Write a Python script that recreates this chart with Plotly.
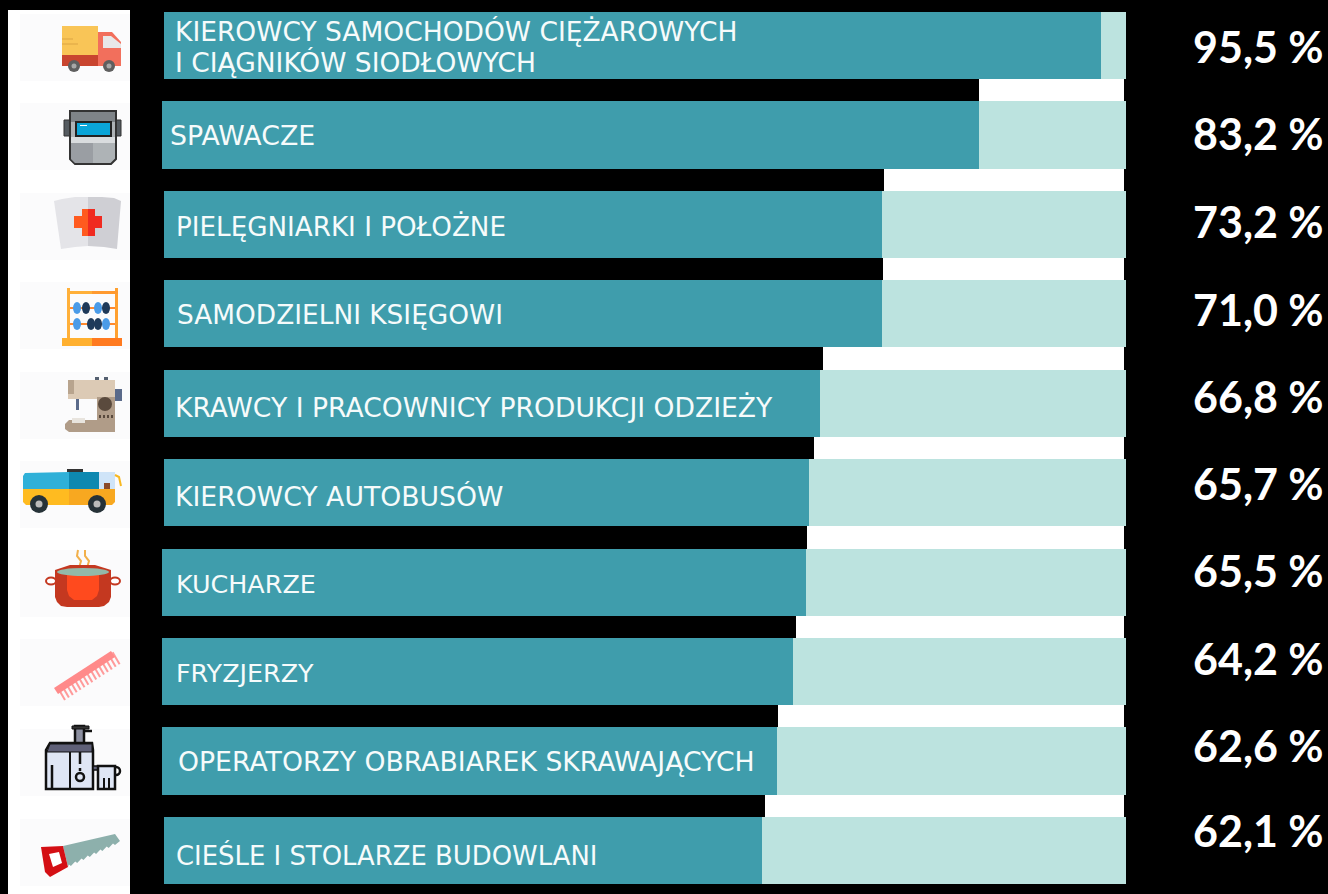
import plotly.graph_objects as go

W, H = 1328, 894

# --- data ---
occupations = [
    "KIEROWCY SAMOCHODÓW CIĘŻAROWYCH",
    "SPAWACZE",
    "PIELĘGNIARKI I POŁOŻNE",
    "SAMODZIELNI KSIĘGOWI",
    "KRAWCY I PRACOWNICY PRODUKCJI ODZIEŻY",
    "KIEROWCY AUTOBUSÓW",
    "KUCHARZE",
    "FRYZJERZY",
    "OPERATORZY OBRABIAREK SKRAWAJĄCYCH",
    "CIEŚLE I STOLARZE BUDOWLANI",
]
first_label_second_line = "I CIĄGNIKÓW SIODŁOWYCH"
value_labels = ["95,5 %", "83,2 %", "73,2 %", "71,0 %", "66,8 %",
                "65,7 %", "65,5 %", "64,2 %", "62,6 %", "62,1 %"]
# drawn length of the dark part of each bar, in % of the full bar
bar_fill = [97.4, 84.7, 74.7, 74.7, 68.2, 67.1, 66.8, 65.4, 63.8, 62.2]
bar_start = [0.1, -0.1, 0.1, 0.1, 0.1, 0.1, -0.1, -0.1, -0.1, 0.1]
# white stripe between two bars begins here (% of the full bar)
gap_start = [84.7, 74.9, 74.8, 68.5, 67.6, 66.9, 65.7, 63.9, 62.5]
gap_end = 99.8

rows = list(range(len(occupations)))
gap_rows = [r + 0.5 for r in rows[:-1]]

TEAL, PALE = "#3f9dac", "#bce3df"

fig = go.Figure()
fig.add_bar(y=rows, x=[100 - s for s in bar_start], base=bar_start, orientation="h",
            width=0.75, marker=dict(color=PALE, line_width=0), hoverinfo="skip")
fig.add_bar(y=rows, x=[f - s for f, s in zip(bar_fill, bar_start)], base=bar_start,
            orientation="h", width=0.75, marker=dict(color=TEAL, line_width=0), hoverinfo="skip")
fig.add_bar(y=gap_rows, x=[gap_end - g for g in gap_start], base=gap_start, orientation="h",
            width=0.25, marker=dict(color="#ffffff", line_width=0), hoverinfo="skip")

# --- decoration helpers, pixel positions turned into page fractions ---
shapes = []
def px(x): return x / W
def py(y): return 1 - y / H
def rect(x0, y0, x1, y1, color, line=None, lw=0):
    shapes.append(dict(type="rect", xref="paper", yref="paper", x0=px(x0), x1=px(x1), y0=py(y0), y1=py(y1),
                       fillcolor=color, line=dict(color=line or color, width=lw)))
def circ(cx, cy, rx, ry, color, line=None, lw=0):
    shapes.append(dict(type="circle", xref="paper", yref="paper", x0=px(cx - rx), x1=px(cx + rx),
                       y0=py(cy + ry), y1=py(cy - ry), fillcolor=color, line=dict(color=line or color, width=lw)))
def poly(pts, color, line=None, lw=0, close=True):
    d = "M" + " L".join(f"{px(x):.5f},{py(y):.5f}" for x, y in pts) + (" Z" if close else "")
    s = dict(type="path", xref="paper", yref="paper", path=d, line=dict(color=line or color, width=lw))
    if close:
        s["fillcolor"] = color
    shapes.append(s)
def seg(pts, color, lw):
    poly(pts, color, color, lw, close=False)

# white panel and its faint tiles
rect(8, 10, 130, 894, "#ffffff")
for top in [14, 103, 193, 282, 372, 461, 550, 639, 729, 819]:
    rect(20, top, 130, top + 67, "#fbfbfc")

# truck
rect(62, 26, 98, 56, "#f9c557")
seg([(62, 39), (73, 39)], "#dca545", 1); seg([(62, 44), (78, 44)], "#dca545", 1)
rect(62, 55, 98, 66, "#c9452f")
poly([(98, 32), (112, 32), (121, 42), (121, 66), (98, 66)], "#f26f5c")
poly([(103, 36), (111, 36), (121, 44), (121, 48), (103, 48)], "#e8e8e8")
for cx in (74, 109):
    circ(cx, 66, 6, 6, "#5f5f5f"); circ(cx, 66, 2.5, 2.5, "#a8a8a8")

# welding mask
rect(64, 120, 70, 136, "#555b60", "#333", 1); rect(116, 120, 121, 136, "#555b60", "#333", 1)
poly([(70, 111), (116, 111), (116, 159), (111, 164), (75, 164), (70, 159)], "#aeb3b6", "#333", 2)
poly([(71, 143), (93, 143), (93, 163), (75, 163), (71, 159)], "#9a9ea3")
rect(71, 112, 115, 122, "#7f8488"); rect(71, 137, 115, 143, "#d9dcde")
rect(76, 122, 111, 136, "#0aa5d8", "#222", 2)
rect(80, 125, 87, 126, "#ffffff")

# nurse cap
poly([(54, 201), (62, 199), (75, 197), (88, 197), (88, 246), (75, 247), (61, 249)], "#e4e4e8")
poly([(88, 197), (102, 197), (114, 198), (121, 201), (117, 249), (104, 247), (88, 246)], "#cfcfd4")
rect(74, 216, 88, 228, "#ff5a1f"); rect(82, 209, 88, 236, "#ff5a1f")
rect(88, 216, 102, 228, "#f02a20"); rect(88, 209, 95, 236, "#f02a20")

# abacus
rect(67, 288, 70, 338, "#ffb03a"); rect(115, 288, 118, 338, "#ffa030")
rect(67, 291, 92, 294, "#ffb03a"); rect(92, 291, 118, 294, "#ff9a30")
rect(70, 307, 115, 309, "#ff8a30"); rect(70, 323, 115, 325, "#ff8a30")
rect(62, 338, 92, 346, "#ffb030"); rect(92, 338, 122, 346, "#ff7a20")
BLUE, NAVY = "#4a9be8", "#1f3a5a"
for cx, c in [(77, BLUE), (86, NAVY), (98, BLUE), (106, NAVY)]:
    circ(cx, 308, 4, 6, c)
for cx, c in [(77, BLUE), (91, NAVY), (98, NAVY), (106, BLUE)]:
    circ(cx, 324, 4, 6, c)

# sewing machine
rect(95, 377, 99, 380, "#556070"); rect(104, 377, 108, 380, "#556070")
rect(68, 380, 115, 399, "#dccab5"); rect(68, 380, 74, 394, "#b8a48e")
rect(97, 397, 115, 422, "#b09c88")
poly([(65, 424), (69, 420), (115, 420), (115, 432), (69, 432), (65, 429)], "#b09c88")
rect(115, 389, 122, 401, "#5a6a8a")
rect(76, 399, 79, 410, "#5a6a8a"); rect(72, 418, 85, 423, "#e8e4de")
circ(105, 404, 7, 7, "#5a4a3d")
for cx in (99, 103, 107, 111):
    rect(cx, 415, cx + 2, 418, "#5a4a3d")

# bus
rect(67, 469, 83, 472, "#333333")
poly([(23, 476), (25, 473), (69, 472), (69, 489), (23, 489)], "#2fb0d8")
rect(69, 472, 99, 489, "#0e88b0")
rect(99, 472, 115, 489, "#cfe4f8"); rect(104, 483, 110, 489, "#8a4a2a")
poly([(23, 489), (69, 489), (69, 505), (26, 505), (23, 502)], "#ffbb20")
poly([(69, 489), (115, 489), (115, 502), (112, 505), (69, 505)], "#f8a820")
seg([(115, 475), (119, 477), (121, 486)], "#f8b820", 2)
for cx in (39, 97):
    circ(cx, 504, 9, 9, "#263238"); circ(cx, 504, 3.5, 3.5, "#bbbbbb")

# pot
seg([(78, 550), (77, 556), (81, 561), (79, 568)], "#f2b04a", 2)
seg([(85, 550), (85, 556), (89, 561), (87, 568)], "#f2b04a", 2)
circ(51, 581, 5, 3.5, "#ffffff", "#c43820", 2); circ(115, 581, 5, 3.5, "#ffffff", "#c43820", 2)
poly([(55, 570), (70, 565), (95, 565), (111, 570), (111, 597), (109, 602), (104, 606), (99, 607),
      (67, 607), (61, 606), (57, 602), (55, 597)], "#c43820")
poly([(67, 575), (99, 575), (99, 590), (97, 596), (92, 600), (74, 600), (69, 596), (67, 590)], "#ff4a1e")
circ(83, 572, 26, 4, "#93b9a8")

# comb
for i in range(15):
    x0 = 58 + i * 3.9
    y0 = 688 - i * 2.55
    seg([(x0, y0), (x0 + 7, y0 + 12)], "#ff9a9a", 2)
poly([(54, 688), (111, 651), (115, 657), (58, 694)], "#ff8a8a")

# juicer
rect(75, 726, 84, 745, "#8c8fa0", "#111", 2.5); rect(72, 726, 89, 729, "#333", "#111", 1)
seg([(84, 731), (92, 731)], "#111", 2.5)
poly([(46, 789), (46, 750), (50, 743), (92, 743), (93, 750), (93, 789)], "#dfe6f5", "#111", 2.5)
poly([(47, 752), (50, 744), (92, 744), (92, 752)], "#5f6078", "#111", 1)
seg([(52, 765), (52, 789)], "#111", 2.5)
seg([(70, 752), (70, 789)], "#111", 2)
seg([(80, 752), (80, 764)], "#111", 2.5); seg([(80, 768), (80, 771)], "#111", 2.5)
circ(80, 777, 4, 4, "#dfe6f5", "#111", 2.5)
rect(93, 766, 99, 770, "#5f6078", "#111", 1.5)
circ(116, 771, 4, 4, "#ffffff", "#111", 2.5)
rect(98, 766, 115, 789, "#dfe6f5", "#111", 2.5)
seg([(104, 778), (104, 789)], "#111", 2); seg([(109, 778), (109, 789)], "#111", 2)

# saw
edge = [(115, 834), (120, 841)]
for i in range(8):
    x = 118 - i * 6.3
    y = 842 + i * 3
    edge += [(x - 3, y + 3), (x - 5, y + 1.5)]
poly([(63, 846)] + edge + [(68, 867)], "#8db0ac")
poly([(41, 847), (63, 846), (68, 867), (50, 877), (45, 872)], "#d40f14")
poly([(49, 854), (59, 852), (62, 863), (53, 867)], "#ffffff")

# --- texts ---
label_x = [174, 169, 175, 176, 174, 174, 175, 175, 177, 175]
label_y = [32, 135, 226, 314, 407, 497, 584, 673, 761, 855]
label_size = [26.5, 26.8, 26.2, 26.4, 26.6, 26.7, 25.4, 25.4, 26.7, 25.9]
value_y = [46, 133, 222, 309, 396, 483, 570, 658, 745, 830]

def label(text, x, y, s):
    return dict(text=text, xref="paper", yref="paper", x=px(x), y=py(y), xanchor="left", yanchor="middle",
                align="left", showarrow=False, borderpad=0,
                font=dict(family="DejaVu Sans", size=s, color="#f6fbfb"))

ann = [label(n, x, y, s) for n, x, y, s in zip(occupations, label_x, label_y, label_size)]
ann.append(label(first_label_second_line, label_x[0], 62, label_size[0]))
for v, y in zip(value_labels, value_y):
    ann.append(dict(text=f"<b>{v}</b>", xref="paper", yref="paper", x=px(1324.5), y=py(y), xanchor="right",
                    yanchor="middle", showarrow=False, borderpad=0,
                    font=dict(family="Lato", size=43, color="#ffffff")))

fig.update_layout(
    width=W, height=H, autosize=False, showlegend=False, barmode="overlay", bargap=0,
    paper_bgcolor="#000000", plot_bgcolor="#000000",
    margin=dict(l=0, r=0, t=0, b=0, pad=0),
    xaxis=dict(domain=[158 / W, 1131 / W], range=[-0.519, 100.519], visible=False, fixedrange=True),
    yaxis=dict(range=[9.487, -0.509], visible=False, fixedrange=True),
    shapes=shapes, annotations=ann,
)
fig.write_html("out.html", config=dict(displayModeBar=False),
               post_script="document.body.style.margin='0';document.body.style.background='#000';")
